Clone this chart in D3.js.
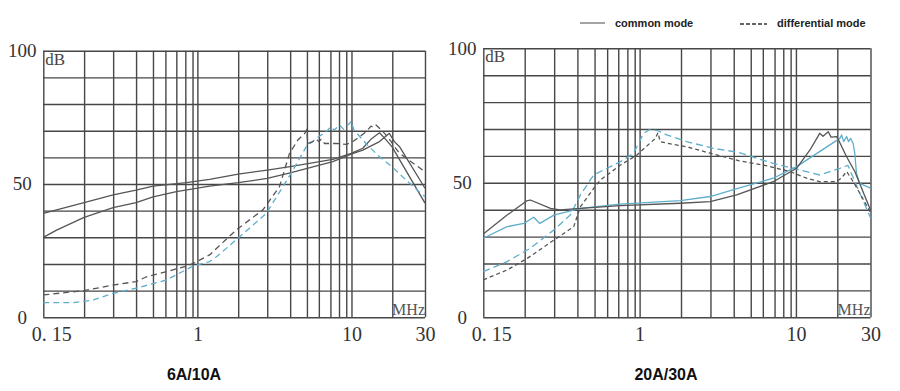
<!DOCTYPE html>
<html>
<head>
<meta charset="utf-8">
<script src="https://cdn.jsdelivr.net/npm/d3@7"></script>
<style>
  html, body { margin: 0; padding: 0; background: #ffffff; }
  svg { display: block; }
</style>
</head>
<body>
<svg id="chart" width="900" height="391"></svg>
<script>
// ---------------- DATA ----------------
// frequency (MHz) gridline positions as drawn in the original (per decade)
const gridFreqs = [0.184, 0.284, 0.40, 0.515, 0.62, 0.73, 0.835, 0.93, 1,
                   1.84, 2.84, 4.0, 5.14, 6.14, 7.3, 8.3, 9.25, 10, 18.4];
const dbGrid = [0, 10, 20, 30, 40, 50, 60, 70, 80, 90, 100];
const yTickValues = [0, 50, 100];
const xTickValues = [0.1, 1, 10, 30];
const xTickText = ["0. 15", "1", "10", "30"];
const panelTitles = ["6A/10A", "20A/30A"];
const legendLabels = ["common mode", "differential mode"];

// Left chart (6A/10A): [MHz, dB]
const left_cm_a = [[0.1,39],[0.122,40.3],[0.184,43],[0.284,45.9],[0.40,47.7],[0.516,49.2],[0.848,50.5],[1.2,51.7],[1.84,53.7],[2.84,55.2],[4.0,56.5],[7.57,59.2],[9.95,61.5],[11.84,63.4],[13.5,67],[15.2,69.2],[16.5,67],[18.3,64],[30,42.8]];
const left_cm_b = [[0.1,30],[0.122,32.7],[0.184,37.5],[0.284,41.1],[0.40,43],[0.516,45.2],[0.731,47.1],[1.2,49.2],[1.84,50.5],[2.84,52.1],[4.0,54.2],[7.57,58.4],[9.95,61.2],[11.84,62.7],[15.2,65.9],[17.6,69],[19.0,65.9],[20.5,64],[30,48.4]];
const left_dm_a = [[0.1,8.4],[0.184,10],[0.284,12.1],[0.40,13.4],[0.467,15.2],[0.63,17.1],[0.85,19.2],[0.94,20.2],[1.2,23.4],[1.79,32.8],[2.66,40.3],[3.41,49],[3.96,61.5],[4.49,66.5],[5.05,69.4],[5.12,70.5],[5.21,65.2],[5.62,65.9],[5.9,66.8],[6.14,65.9],[6.36,66.8],[6.68,65.2],[7.95,65.2],[9.24,64.9],[9.95,65.5],[11.3,67.7],[12.4,69.6],[13.4,71.7],[13.9,71.2],[14.45,72.1],[15.2,70.9],[16.4,69],[18.1,65.9],[19.0,64],[20.5,61.5],[30,54.6]];
const left_dm_b = [[0.1,5.5],[0.157,5.5],[0.211,6.5],[0.284,9],[0.40,10.9],[0.63,14],[0.937,19.2],[1.2,20.9],[1.33,22.7],[1.88,30.2],[2.80,39],[3.59,49],[4.17,55.2],[5.09,64],[5.9,67.1],[6.85,69.6],[7.38,71.5],[7.7,70.2],[8.36,72.1],[8.9,70.5],[9.95,73.4],[10.4,70.2],[12.4,65.2],[15.2,60.2],[18.3,56.5],[22.6,51.5],[30,45.2]];

// Right chart (20A/30A): [MHz, dB]
const right_cm_a = [[0.1,31],[0.142,38],[0.191,43.4],[0.2,43.6],[0.269,40.5],[0.31,39.9],[0.418,40.5],[0.75,41.5],[1.82,42.4],[2.83,43],[4.18,45.5],[7.16,50.4],[10.1,55.4],[12.3,62.2],[14.2,68.4],[14.9,67.3],[16.1,69],[16.8,67],[18.2,67.2],[18.7,66],[21.1,59.7],[23.8,54.2],[30,39.9]];
const right_cm_b = [[0.1,29.4],[0.142,33.7],[0.182,34.9],[0.21,37.2],[0.23,34.9],[0.283,38],[0.418,40.5],[0.75,42.1],[1.82,43.4],[2.83,44.9],[4.3,48],[7.16,51.7],[10.1,56],[19.1,66.5],[19.6,67.8],[20.2,65.3],[21.1,67.2],[21.7,65.3],[22.4,66.5],[23.2,64.7],[23.8,61],[24.4,53.5],[25.6,49.8],[30,48]];
const right_dm_a = [[0.1,17],[0.142,20.7],[0.2,25.7],[0.283,32.5],[0.36,38],[0.418,45.5],[0.51,53],[0.752,57.8],[0.915,61],[1.06,68.4],[1.17,69.9],[1.32,69.3],[1.49,67.8],[2.0,65.3],[2.97,62.8],[4.3,61.3],[7.16,57.2],[10.6,54.8],[14.2,52.9],[19.1,55.4],[21.5,56.5],[24,50],[30,37]];
const right_dm_b = [[0.1,13.9],[0.142,17.6],[0.191,21.9],[0.283,28.7],[0.379,33.7],[0.418,41.1],[0.51,48],[0.56,51],[0.75,56.5],[0.96,60.3],[1.26,66.5],[1.31,68.6],[1.355,65.3],[1.5,64.7],[2.0,63.4],[2.83,61],[4.3,58.2],[6.19,56.6],[9.15,54.2],[11.7,51.7],[14.2,50.4],[18.2,50.4],[19.6,51.8],[21.1,54.2],[23.5,50],[30,39]];

// ---------------- STYLE ----------------
const DARK = "#555555";
const TEAL = "#5eaecb";
const GRID = "#474747";

const svg = d3.select("#chart");

const panels = [
  { box: {x0: 43.3, x1: 425, y0: 50.7, y1: 317.3}, title: panelTitles[0], titleX: 194,
    series: [
      {data: left_cm_a, color: DARK, dash: null},
      {data: left_cm_b, color: DARK, dash: null},
      {data: left_dm_b, color: TEAL, dash: "6,4"},
      {data: left_dm_a, color: DARK, dash: "6,4"}
    ]},
  { box: {x0: 483.3, x1: 870.5, y0: 48.3, y1: 317.3}, title: panelTitles[1], titleX: 666,
    series: [
      {data: right_dm_a, color: TEAL, dash: "7,4"},
      {data: right_dm_b, color: DARK, dash: "4,3"},
      {data: right_cm_b, color: TEAL, dash: null},
      {data: right_cm_a, color: DARK, dash: null}
    ]}
];

panels.forEach(p => {
  const b = p.box;
  const x = d3.scaleLog().domain([0.1, 30]).range([b.x0, b.x1]);
  const y = d3.scaleLinear().domain([0, 100]).range([b.y1, b.y0]);
  const g = svg.append("g");

  // vertical gridlines
  const gx = g.append("g").attr("transform", `translate(0,${b.y1})`)
    .call(d3.axisBottom(x).tickValues(gridFreqs.concat([0.1, 30])).tickSize(-(b.y1 - b.y0)).tickFormat(""));
  gx.select(".domain").remove();
  gx.selectAll("line").attr("stroke", GRID).attr("stroke-width", 1.4);

  // horizontal gridlines
  const gy = g.append("g").attr("transform", `translate(${b.x0},0)`)
    .call(d3.axisLeft(y).tickValues(dbGrid).tickSize(-(b.x1 - b.x0)).tickFormat(""));
  gy.select(".domain").remove();
  gy.selectAll("line").attr("stroke", GRID).attr("stroke-width", 1.4);

  // curves
  const line = d3.line().x(d => x(d[0])).y(d => y(d[1]));
  p.series.forEach(s => {
    g.append("path").datum(s.data)
      .attr("d", line)
      .attr("fill", "none")
      .attr("stroke", s.color)
      .attr("stroke-width", 1.3)
      .attr("stroke-linejoin", "round")
      .attr("stroke-dasharray", s.dash);
  });

  // y labels
  const ya = g.append("g").attr("transform", `translate(${b.x0},0)`)
    .call(d3.axisLeft(y).tickValues(yTickValues).tickSize(0).tickFormat(d3.format("d")));
  ya.select(".domain").remove();
  ya.selectAll("text")
    .attr("x", -21).attr("dy", "0.3em")
    .attr("text-anchor", "middle")
    .attr("font-family", "'Liberation Serif', 'DejaVu Serif', serif")
    .attr("font-size", 19).attr("fill", "#333");

  // x labels
  const xa = g.append("g").attr("transform", `translate(0,${b.y1})`)
    .call(d3.axisBottom(x).tickValues(xTickValues).tickSize(0)
      .tickFormat((d, i) => xTickText[i]));
  xa.select(".domain").remove();
  xa.selectAll("text")
    .attr("y", 10).attr("dy", "0.71em")
    .attr("dx", (d, i) => i === 0 ? 8 : 0)
    .attr("font-family", "'Liberation Serif', 'DejaVu Serif', serif")
    .attr("font-size", 20).attr("fill", "#333");

  // units
  g.append("text").attr("x", b.x0 + 2).attr("y", b.y0 + 14)
    .attr("font-family", "'Liberation Serif', 'DejaVu Serif', serif")
    .attr("font-size", 17).attr("fill", "#444").text("dB");
  g.append("text").attr("x", b.x1).attr("y", b.y1 - 2)
    .attr("text-anchor", "end")
    .attr("font-family", "'Liberation Serif', 'DejaVu Serif', serif")
    .attr("font-size", 16).attr("fill", "#555").text("MHz");

  // panel title
  g.append("text").attr("x", p.titleX).attr("y", 380)
    .attr("text-anchor", "middle")
    .attr("font-family", "'Liberation Sans', Arial, sans-serif")
    .attr("font-weight", "bold").attr("font-size", 16).attr("fill", "#111")
    .text(p.title);
});

// legend
const lg = svg.append("g").attr("font-family", "'Liberation Sans', Arial, sans-serif")
  .attr("font-weight", "bold").attr("font-size", 11).attr("fill", "#222");
lg.append("line").attr("x1", 580).attr("x2", 605).attr("y1", 23).attr("y2", 23)
  .attr("stroke", "#666").attr("stroke-width", 1.2);
lg.append("text").attr("x", 615).attr("y", 27).text(legendLabels[0]);
lg.append("line").attr("x1", 740).attr("x2", 767).attr("y1", 24).attr("y2", 24)
  .attr("stroke", "#333").attr("stroke-width", 1.4).attr("stroke-dasharray", "4,2");
lg.append("text").attr("x", 777).attr("y", 27).text(legendLabels[1]);
</script>
</body>
</html>
